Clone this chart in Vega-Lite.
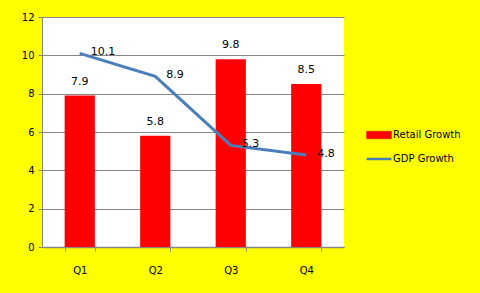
{
  "$schema": "https://vega.github.io/schema/vega-lite/v6.json",
  "width": 302,
  "height": 230,
  "autosize": {"type": "none"},
  "padding": {"left": 42, "top": 17, "right": 136, "bottom": 46},
  "background": "#ffff00",
  "config": {
    "view": {"fill": "white", "stroke": null},
    "font": "DejaVu Sans",
    "axis": {
      "domainColor": "#868686",
      "tickColor": "#868686",
      "gridColor": "#868686",
      "labelFont": "DejaVu Sans",
      "labelFontSize": 10,
      "labelColor": "black",
      "title": null
    }
  },
  "data": {
    "values": [
      {"quarter": "Q1", "series": "Retail Growth", "value": 7.9},
      {"quarter": "Q2", "series": "Retail Growth", "value": 5.8},
      {"quarter": "Q3", "series": "Retail Growth", "value": 9.8},
      {"quarter": "Q4", "series": "Retail Growth", "value": 8.5},
      {"quarter": "Q1", "series": "GDP Growth", "value": 10.1},
      {"quarter": "Q2", "series": "GDP Growth", "value": 8.9},
      {"quarter": "Q3", "series": "GDP Growth", "value": 5.3},
      {"quarter": "Q4", "series": "GDP Growth", "value": 4.8}
    ]
  },
  "encoding": {
    "x": {
      "field": "quarter",
      "type": "nominal",
      "scale": {"paddingInner": 0.6, "paddingOuter": 0.3},
      "axis": {"labelAngle": 0, "labelPadding": 14, "tickBand": "extent", "tickSize": 4, "domainWidth": 1.5}
    },
    "y": {
      "field": "value",
      "type": "quantitative",
      "scale": {"domain": [0, 12]},
      "axis": {"values": [0, 2, 4, 6, 8, 10, 12], "tickSize": 4, "labelPadding": 4, "grid": true}
    }
  },
  "layer": [
    {
      "transform": [{"filter": "datum.series === 'Retail Growth'"}],
      "mark": {"type": "bar"},
      "encoding": {
        "color": {
          "field": "series",
          "type": "nominal",
          "scale": {"domain": ["Retail Growth", "GDP Growth"], "range": ["#ff0000", "#4a7ebb"]},
          "legend": {
            "title": null,
            "orient": "none",
            "legendX": 332,
            "legendY": 113,
            "labelFont": "DejaVu Sans",
            "labelFontSize": 10,
            "labelOffset": 9,
            "rowPadding": 14,
            "symbolSize": 620,
            "encode": {
              "symbols": {
                "update": {
                  "shape": {"signal": "datum.value === 'Retail Growth' ? 'M-1,-0.3H1V0.3H-1Z' : 'M-1,0H1'"},
                  "fill": {"signal": "datum.value === 'Retail Growth' ? '#ff0000' : 'transparent'"},
                  "stroke": {"signal": "datum.value === 'Retail Growth' ? '#ff0000' : '#4a7ebb'"},
                  "strokeWidth": {"signal": "datum.value === 'Retail Growth' ? 0.5 : 2.5"}
                }
              }
            }
          }
        }
      }
    },
    {
      "transform": [{"filter": "datum.series === 'Retail Growth'"}],
      "mark": {"type": "text", "baseline": "bottom", "dy": -9, "fontSize": 11, "font": "DejaVu Sans"},
      "encoding": {"text": {"field": "value", "type": "quantitative", "format": ".1f"}}
    },
    {
      "transform": [{"filter": "datum.series === 'GDP Growth'"}],
      "mark": {"type": "line", "strokeWidth": 3},
      "encoding": {"color": {"field": "series", "type": "nominal"}}
    },
    {
      "transform": [{"filter": "datum.series === 'GDP Growth'"}],
      "mark": {"type": "text", "align": "left", "baseline": "middle", "dx": 11, "dy": -1, "fontSize": 11, "font": "DejaVu Sans"},
      "encoding": {"text": {"field": "value", "type": "quantitative", "format": ".1f"}}
    }
  ]
}
